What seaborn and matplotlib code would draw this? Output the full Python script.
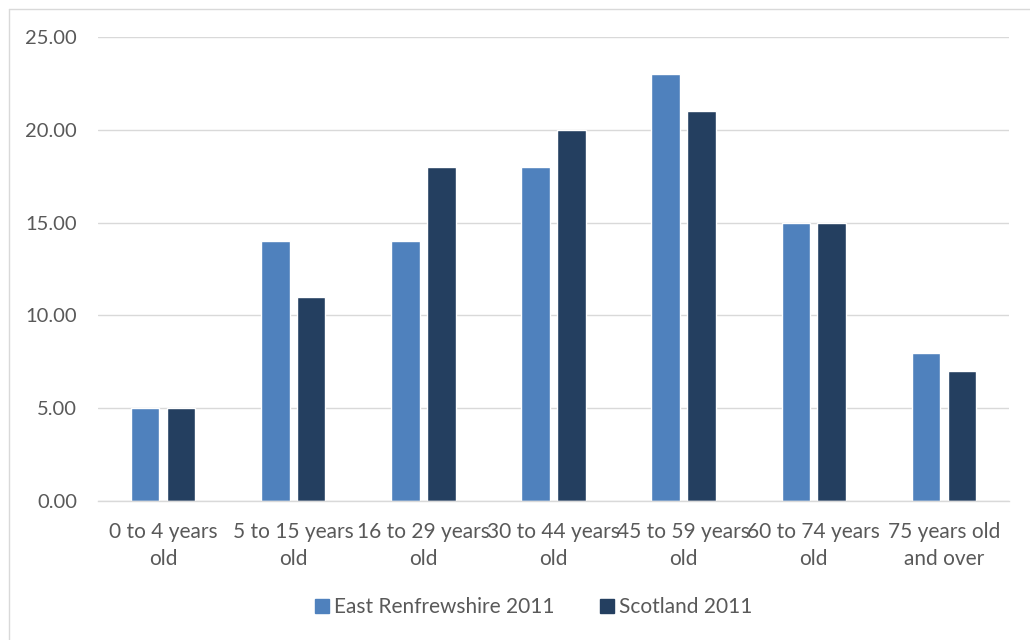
import matplotlib
matplotlib.use("Agg")
import matplotlib.pyplot as plt
import seaborn as sns
import pandas as pd
from matplotlib.lines import Line2D

categories = ["0 to 4 years\nold", "5 to 15 years\nold", "16 to 29 years\nold",
              "30 to 44 years\nold", "45 to 59 years\nold", "60 to 74 years\nold",
              "75 years old\nand over"]
east_renfrewshire = [5, 14, 14, 18, 23, 15, 8]
scotland = [5, 11, 18, 20, 21, 15, 7]
series_names = ["East Renfrewshire 2011", "Scotland 2011"]
y_ticks = [0, 5, 10, 15, 20, 25]

df = pd.DataFrame({
    "category": categories * 2,
    "value": east_renfrewshire + scotland,
    "series": [series_names[0]] * len(categories) + [series_names[1]] * len(categories),
})

sns.set_theme(style="white")
plt.rcParams["font.family"] = ["Lato", "DejaVu Sans"]
text_color = "#595959"
colors = ["#4F81BD", "#243F60"]

fig = plt.figure(figsize=(10.3, 6.4), dpi=100)
ax = fig.add_axes([98 / 1030, 1 - 501 / 640, (1009 - 98) / 1030, (501 - 37) / 640])

sns.barplot(data=df, x="category", y="value", hue="series", order=categories,
            hue_order=series_names, palette=colors, width=0.55, gap=0.2,
            saturation=1, ax=ax, legend=False)

ax.set_ylim(0, 25)
ax.set_yticks(y_ticks)
ax.set_yticklabels([f"{v:.2f}" for v in y_ticks])
ax.yaxis.grid(True, color="#D9D9D9", linewidth=1)
ax.set_axisbelow(True)
for s in ["top", "right", "left"]:
    ax.spines[s].set_visible(False)
ax.spines["bottom"].set_color("#D9D9D9")
ax.spines["bottom"].set_linewidth(1)
ax.set_xlabel("")
ax.set_ylabel("")
ax.tick_params(axis="both", length=0, colors=text_color)
ax.tick_params(axis="y", pad=15, labelsize=14.5)
ax.tick_params(axis="x", pad=15, labelsize=15)
for lbl in ax.get_xticklabels():
    lbl.set_linespacing(1.42)

handles = [Line2D([0], [0], marker="s", linestyle="", markersize=10,
                  markerfacecolor=c, markeredgecolor=c) for c in colors]
fig.legend(handles, series_names, loc="center", bbox_to_anchor=(532 / 1030, 1 - 607 / 640),
           ncol=2, frameon=False, fontsize=15, labelcolor=text_color,
           handletextpad=0.1, columnspacing=2.0, handlelength=1.0)

# chart border (top and left visible)
fig.add_artist(Line2D([9 / 1030, 9 / 1030], [0, 1 - 9 / 640], transform=fig.transFigure,
                      color="#D9D9D9", linewidth=1))
fig.add_artist(Line2D([9 / 1030, 1], [1 - 9 / 640, 1 - 9 / 640], transform=fig.transFigure,
                      color="#D9D9D9", linewidth=1))

fig.savefig("out.png", dpi=100, facecolor="white")
